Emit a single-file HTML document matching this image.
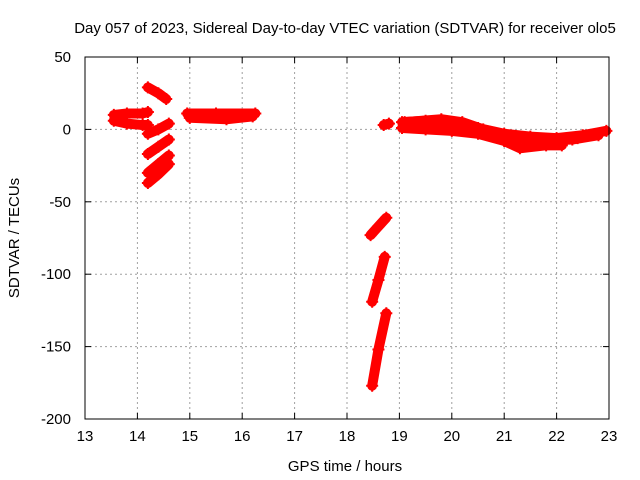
<!DOCTYPE html>
<html><head><meta charset="utf-8"><style>
body{margin:0;background:#fff}
svg{display:block;font-family:"Liberation Sans",sans-serif}
</style></head><body>
<svg id="c" width="640" height="480" xmlns="http://www.w3.org/2000/svg">
<rect width="640" height="480" fill="#fff"/>
<text x="345" y="33" font-size="15" text-anchor="middle">Day 057 of 2023, Sidereal Day-to-day VTEC variation (SDTVAR) for receiver olo5</text>
<text x="345" y="471" font-size="15" text-anchor="middle">GPS time / hours</text>
<text transform="translate(19,238) rotate(-90)" font-size="15" text-anchor="middle">SDTVAR / TECUs</text>
<g id="grid"></g><g id="marks"></g>
<rect x="85" y="57" width="524" height="362" fill="none" stroke="#000" stroke-width="1"/>
</svg>
<script>
const xTicks=[13,14,15,16,17,18,19,20,21,22,23];
const yTicks=[50,0,-50,-100,-150,-200];
const trackA1=[[13.55,10],[13.8,11],[14.1,11],[14.2,12]];
const trackA2=[[13.55,6],[13.8,4],[14.1,3],[14.2,3]];
const trackB=[[14.2,29],[14.4,25],[14.55,21]];
const trackC=[[14.2,-3],[14.4,0],[14.6,4]];
const trackD=[[14.2,-17],[14.4,-12],[14.6,-7]];
const trackE=[[14.2,-30],[14.4,-24],[14.6,-18]];
const trackF=[[14.2,-37],[14.4,-31],[14.6,-24]];
const trackG1=[[14.95,11],[15.5,11],[16.25,11]];
const trackG2=[[15.0,8],[15.7,7],[16.2,9]];
const trackG3=[[15.0,10],[15.7,9],[16.2,10]];
const trackH=[[18.7,3],[18.8,4]];
const trackI=[[18.45,-73],[18.6,-67],[18.75,-61]];
const trackJ=[[18.48,-119],[18.6,-104],[18.72,-88]];
const trackK=[[18.48,-177],[18.6,-152],[18.75,-127]];
const trackL1=[[19.05,5],[19.5,6],[20.0,5],[20.5,1],[21,-3],[21.5,-5],[22,-6],[22.5,-4],[22.95,-1]];
const trackL2=[[19.05,1],[19.5,0],[20,-1],[20.5,-3],[21,-8],[21.3,-13],[21.8,-11],[22.1,-11]];
const trackL3=[[19.1,3],[19.8,4],[20.3,2],[21,-4],[21.6,-8],[22.3,-7],[22.8,-4]];
const trackL4=[[19.1,5],[19.8,7],[20.2,5],[20.6,0],[21.2,-5],[21.8,-9],[22.4,-6]];
const tracks=[trackA1,trackA2,trackB,trackC,trackD,trackE,trackF,trackG1,trackG2,trackG3,trackH,trackI,trackJ,trackK,trackL1,trackL2,trackL3,trackL4];

const X=t=>85+(t-13)*52.4;
const Y=v=>129.4-v*1.448;
const NS="http://www.w3.org/2000/svg";
const grid=document.getElementById('grid'),marks=document.getElementById('marks');
function mk(tag,attrs,parent){const e=document.createElementNS(NS,tag);for(const k in attrs)e.setAttribute(k,attrs[k]);parent.appendChild(e);return e;}
xTicks.forEach(t=>{
  const x=X(t);
  if(t>13&&t<23){const g=mk('line',{x1:x,y1:57,x2:x,y2:419,stroke:'#a0a0a0','stroke-dasharray':'2,3'},grid);
  
  }
  mk('line',{x1:x,y1:419,x2:x,y2:413,stroke:'#000'},grid);
  mk('line',{x1:x,y1:57,x2:x,y2:63,stroke:'#000'},grid);
  const l=mk('text',{x:x,y:441,'font-size':15,'text-anchor':'middle'},grid);l.textContent=t;
  
  
});
yTicks.forEach(v=>{
  const y=Y(v);
  if(v<50&&v>-200){const g=mk('line',{x1:85,y1:y,x2:609,y2:y,stroke:'#a0a0a0','stroke-dasharray':'2,3'},grid);
  
  }
  mk('line',{x1:85,y1:y,x2:91,y2:y,stroke:'#000'},grid);
  mk('line',{x1:609,y1:y,x2:603,y2:y,stroke:'#000'},grid);
  const l=mk('text',{x:71,y:y+5,'font-size':15,'text-anchor':'end'},grid);l.textContent=v;
  
  
});
tracks.forEach(tr=>{
  const pts=tr.map(p=>X(p[0])+','+Y(p[1])).join(' ');
  const pl=mk('polyline',{points:pts,fill:'none',stroke:'#f00','stroke-width':10,'stroke-linecap':'round','stroke-linejoin':'round'},marks);
  
  
  tr.forEach(p=>{
    const x=X(p[0]),y=Y(p[1]);
    const m=mk('path',{d:`M${x-6},${y}H${x+6}M${x},${y-6}V${y+6}`,stroke:'#f00','stroke-width':2},marks);
    
    
  });
});
</script>
</body></html>
